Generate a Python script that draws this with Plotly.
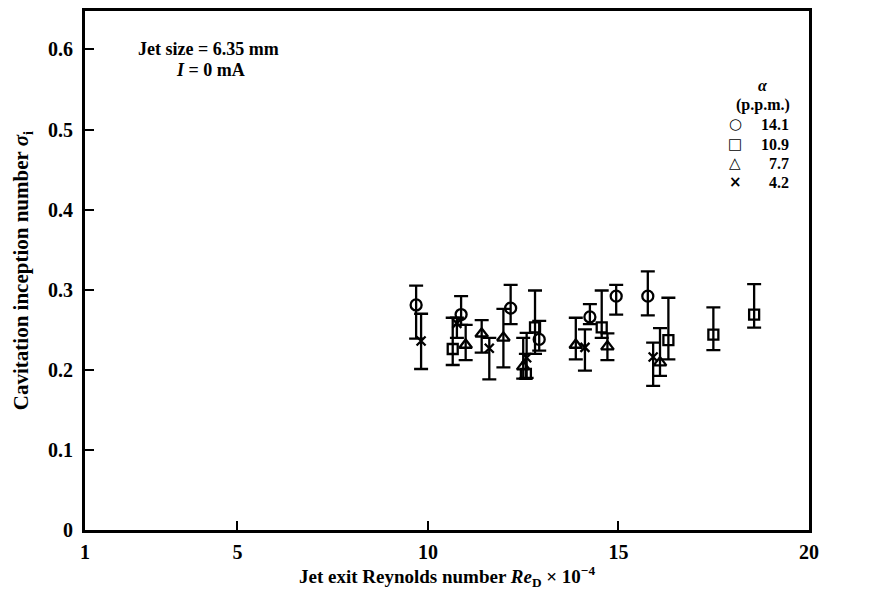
import plotly.graph_objects as go

# alpha = 14.1 p.p.m. (circles)
re_141 = [9.69, 10.87, 12.17, 12.92, 14.25, 14.94, 15.77]
sig_141 = [0.281, 0.269, 0.277, 0.238, 0.266, 0.292, 0.292]
hi_141 = [0.305, 0.292, 0.306, 0.261, 0.282, 0.306, 0.323]
lo_141 = [0.239, 0.256, 0.257, 0.224, 0.257, 0.269, 0.268]

# alpha = 10.9 p.p.m. (squares)
re_109 = [10.65, 12.57, 12.81, 14.56, 16.31, 17.49, 18.56]
sig_109 = [0.226, 0.195, 0.253, 0.253, 0.237, 0.244, 0.269]
hi_109 = [0.265, 0.220, 0.299, 0.299, 0.290, 0.278, 0.307]
lo_109 = [0.206, 0.189, 0.220, 0.240, 0.213, 0.2245, 0.2526]

# alpha = 7.7 p.p.m. (triangles)
re_77 = [10.99, 11.41, 11.98, 12.50, 13.88, 14.71, 16.09]
sig_77 = [0.231, 0.245, 0.240, 0.204, 0.231, 0.229, 0.209]
hi_77 = [0.256, 0.262, 0.276, 0.240, 0.265, 0.2455, 0.252]
lo_77 = [0.212, 0.2215, 0.203, 0.189, 0.213, 0.212, 0.1925]

# alpha = 4.2 p.p.m. (crosses)
re_42 = [9.82, 10.76, 11.61, 12.59, 14.12, 15.91]
sig_42 = [0.236, 0.258, 0.227, 0.215, 0.228, 0.216]
hi_42 = [0.270, 0.265, 0.240, 0.246, 0.2505, 0.234]
lo_42 = [0.201, 0.240, 0.188, 0.190, 0.199, 0.180]

x_ticks = [1, 5, 10, 15, 20]
y_ticks = [0, 0.1, 0.2, 0.3, 0.4, 0.5, 0.6]
y_ticktext = ["0", "0.1", "0.2", "0.3", "0.4", "0.5", "0.6"]

legend_labels = ["14.1", "10.9", "7.7", "4.2"]
legend_glyphs = ["○", "□", "△", "×"]

FONT = "Liberation Serif"
series = [
    (re_141, sig_141, hi_141, lo_141, "circle-open", 11),
    (re_109, sig_109, hi_109, lo_109, "square-open", 10),
    (re_77, sig_77, hi_77, lo_77, "triangle-up-open", 11),
    (re_42, sig_42, hi_42, lo_42, "x-thin-open", 9),
]

fig = go.Figure()
for (xs, ys, hi, lo, sym, sz), name in zip(series, legend_labels):
    fig.add_trace(go.Scatter(
        x=xs, y=ys, mode="markers", name=name, showlegend=False,
        marker=dict(symbol=sym, size=sz, color="black", line=dict(color="black", width=2.3)),
        error_y=dict(type="data", symmetric=False,
                     array=[h - y for h, y in zip(hi, ys)],
                     arrayminus=[y - l for l, y in zip(lo, ys)],
                     color="black", thickness=2.3, width=7),
    ))

L, R, T, B = 85, 809, 8, 530
W, H = 869, 597


def px(xp):
    return (xp - L) / (R - L)


def py(yp):
    return (B - yp) / (B - T)


def txt(s, x, y, size=18, xanchor="center", family=FONT, bold=True):
    return dict(text=f"<b>{s}</b>" if bold else s, xref="paper", yref="paper",
                x=px(x), y=py(y), xanchor=xanchor, yanchor="middle",
                showarrow=False, font=dict(family=family, size=size, color="black"))


ann = [
    txt("Jet size = 6.35 mm", 208, 46),
    txt("<i>I</i> = 0 mA", 210, 67),
    txt("<i>α</i>", 763, 83, size=16),
    txt("(p.p.m.)", 763, 103, size=16),
]
rows_y = [122, 142, 161, 180]
for g, lab, yy in zip(legend_glyphs, legend_labels, rows_y):
    ann.append(txt(g, 735, yy, size=15, family="DejaVu Sans"))
    ann.append(txt(lab, 791, yy, size=16, xanchor="right"))

fig.update_layout(
    width=W, height=H,
    margin=dict(l=L, r=W - R, t=T, b=H - B),
    plot_bgcolor="white", paper_bgcolor="white",
    font=dict(family=FONT, size=20, color="black"),
    showlegend=False,
    annotations=ann,
)
fig.update_xaxes(
    range=[1, 20], tickvals=x_ticks, ticktext=[f"<b>{v}</b>" for v in x_ticks],
    ticks="inside", ticklen=9, tickwidth=1.5, ticklabelstandoff=2,
    tickcolor="black", showline=True, linewidth=3, linecolor="black", mirror=True,
    showgrid=False, zeroline=False, tickfont=dict(family=FONT, size=20),
    title=dict(text="<b>Jet exit Reynolds number <i>Re</i><sub>D</sub> × 10<sup>−4</sup></b>",
               font=dict(family=FONT, size=19), standoff=8),
)
fig.update_yaxes(
    range=[0, 0.648], tickvals=y_ticks, ticktext=[f"<b>{t}</b>" for t in y_ticktext],
    ticks="inside", ticklen=9, tickwidth=1.5, tickcolor="black", showline=True,
    ticklabelstandoff=5,
    linewidth=3, linecolor="black", mirror=True, showgrid=False, zeroline=False,
    tickfont=dict(family=FONT, size=20),
    title=dict(text="<b>Cavitation inception number <i>σ</i><sub>i</sub></b>",
               font=dict(family=FONT, size=21), standoff=14),
)
fig.write_html("out.html")
